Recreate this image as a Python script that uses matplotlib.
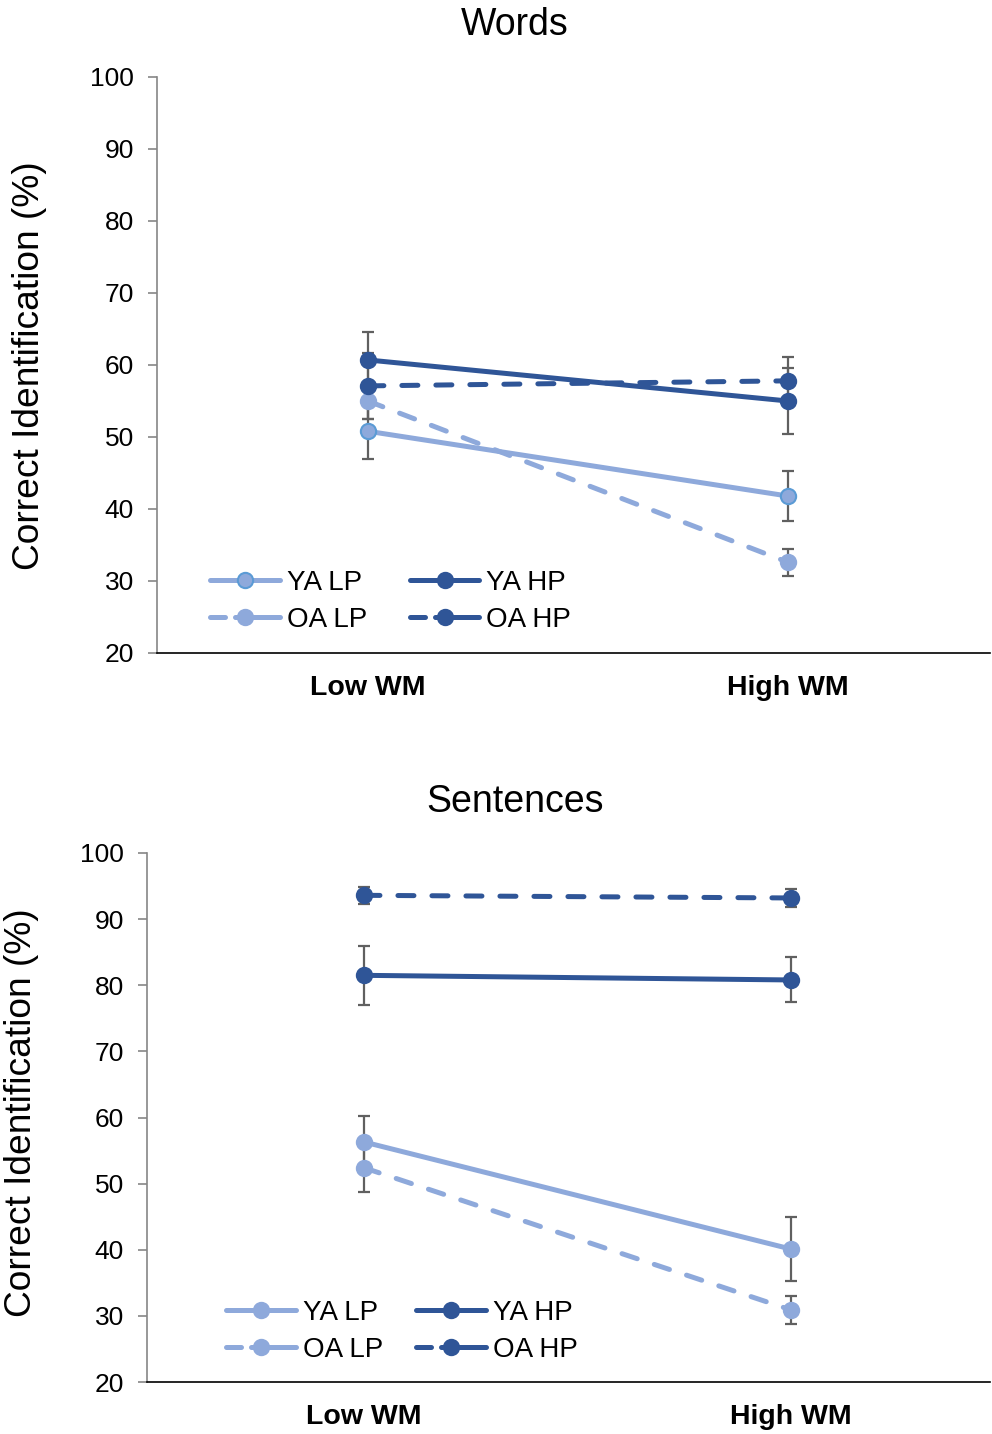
import matplotlib.pyplot as plt
from matplotlib.lines import Line2D

plt.rcParams['font.family'] = ['Liberation Sans', 'DejaVu Sans']

# Categorías del eje x
condiciones = ["Low WM", "High WM"]
series = ["YA LP", "YA HP", "OA LP", "OA HP"]

# Palabras: medias y errores
palabras_media = {
    "YA LP": [50.8, 41.8],
    "YA HP": [60.7, 55.0],
    "OA LP": [55.0, 32.6],
    "OA HP": [57.1, 57.8],
}
palabras_error = {
    "YA LP": [3.8, 3.5],
    "YA HP": [3.9, 4.6],
    "OA LP": [2.5, 1.9],
    "OA HP": [4.6, 3.3],
}

# Oraciones: medias y errores
oraciones_media = {
    "YA LP": [56.3, 40.1],
    "YA HP": [81.5, 80.8],
    "OA LP": [52.4, 30.9],
    "OA HP": [93.6, 93.2],
}
oraciones_error = {
    "YA LP": [3.9, 4.9],
    "YA HP": [4.5, 3.4],
    "OA LP": [3.7, 2.1],
    "OA HP": [1.3, 1.3],
}

claro = "#8EA9DB"
oscuro = "#2F5597"
estilos = {
    "YA LP": dict(color=claro, linestyle="-"),
    "YA HP": dict(color=oscuro, linestyle="-"),
    "OA LP": dict(color=claro, linestyle=(0, (3.2, 3.6))),
    "OA HP": dict(color=oscuro, linestyle=(0, (3.2, 3.6))),
}
# En la leyenda el trazo discontinuo se ve como "▬ ●▬▬"
estilo_leyenda = {"-": "-", "dash": (0, (3.0, 2.0, 30, 0.1))}


def graficar(ax, medias, errores, borde_ya_lp, xlim, leyenda_pos, colsep):
    x = range(len(condiciones))
    handles = {}
    for nombre in series:
        est = estilos[nombre]
        ax.errorbar(x, medias[nombre], yerr=errores[nombre], fmt="none",
                    ecolor="#606060", elinewidth=1.6, capsize=4.2, capthick=1.6,
                    zorder=2)
        borde = "#5B9BD5" if (nombre == "YA LP" and borde_ya_lp) else est["color"]
        ax.plot(x, medias[nombre], color=est["color"], linestyle=est["linestyle"],
                linewidth=3.6, marker="o", markersize=11,
                markerfacecolor=est["color"], markeredgecolor=borde,
                markeredgewidth=1.5, zorder=3,
                dash_capstyle="round", solid_capstyle="round")
        ls = "-" if est["linestyle"] == "-" else estilo_leyenda["dash"]
        handles[nombre] = Line2D([], [], color=est["color"], linestyle=ls,
                                 linewidth=3.6, marker="o", markersize=11,
                                 markerfacecolor=est["color"],
                                 markeredgecolor=borde, markeredgewidth=1.5,
                                 dash_capstyle="round", solid_capstyle="round")

    ax.set_xlim(*xlim)
    ax.set_ylim(20, 100)
    ax.set_yticks(range(20, 101, 10))
    ax.set_xticks(list(x))
    ax.set_xticklabels(condiciones, fontsize=20.5, fontweight="bold")
    ax.tick_params(axis="x", length=0, pad=16)
    ax.tick_params(axis="y", labelsize=19, direction="out", length=6.5,
                   width=1.2, color="#868686", pad=10)
    for lado in ["top", "right"]:
        ax.spines[lado].set_visible(False)
    ax.spines["left"].set_color("#868686")
    ax.spines["left"].set_linewidth(1.2)
    ax.spines["bottom"].set_color("black")
    ax.spines["bottom"].set_linewidth(1.2)

    orden = ["YA LP", "OA LP", "YA HP", "OA HP"]
    ax.legend([handles[n] for n in orden], orden, ncol=2,
              loc="lower left", bbox_to_anchor=leyenda_pos, frameon=False,
              borderpad=0, borderaxespad=0,
              fontsize=20, handlelength=2.5, columnspacing=colsep,
              handletextpad=0.25, labelspacing=0.4)


fig = plt.figure(figsize=(9.92, 14.34), dpi=100)
ax1 = fig.add_axes([157 / 992, 1 - 653 / 1434, 833 / 992, 576 / 1434])
ax2 = fig.add_axes([147 / 992, 1 - 1382 / 1434, 843 / 992, 529 / 1434])

graficar(ax1, palabras_media, palabras_error, True,
         (-0.502, 1.481), (0.064, 0.035), 1.55)
graficar(ax2, oraciones_media, oraciones_error, False,
         (-0.508, 1.466), (0.094, 0.036), 1.2)

# Títulos y etiquetas del eje y
fig.text(515 / 992, 1 - 25 / 1434, "Words", fontsize=27, ha="center", va="center")
fig.text(515 / 992, 1 - 802 / 1434, "Sentences", fontsize=27, ha="center", va="center")
fig.text(30 / 992, 1 - 366 / 1434, "Correct Identification (%)", fontsize=26.7,
         rotation=90, ha="center", va="center")
fig.text(22 / 992, 1 - 1113 / 1434, "Correct Identification (%)", fontsize=26.7,
         rotation=90, ha="center", va="center")

fig.savefig("out.png", dpi=100)
